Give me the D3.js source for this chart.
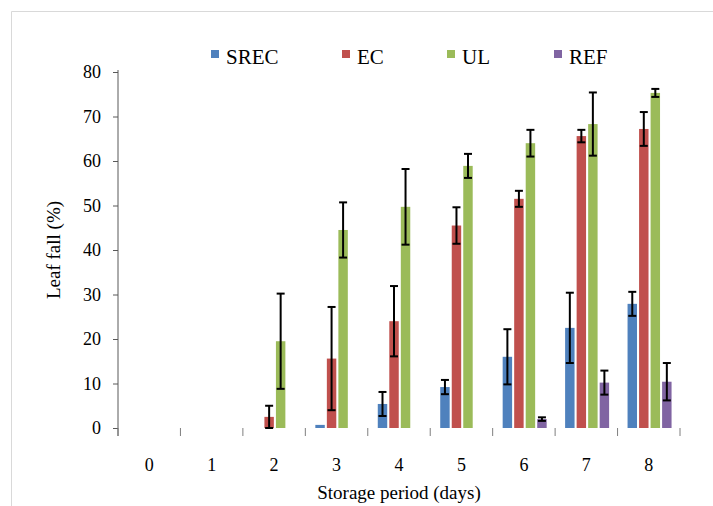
<!DOCTYPE html>
<html>
<head>
<meta charset="utf-8">
<script src="https://cdn.jsdelivr.net/npm/d3@7"></script>
<style>
  body { margin: 0; background: #fff; }
  svg { display: block; }
  svg text { font-family: "Liberation Serif", "Times New Roman", "DejaVu Serif", serif !important; }
</style>
</head>
<body>
<div id="chart"></div>
<script>
const days = ['0', '1', '2', '3', '4', '5', '6', '7', '8'];
const series = ['SREC', 'EC', 'UL', 'REF'];
const colors = ['#4F81BD', '#C0504D', '#9BBB59', '#8064A2'];
const yTicks = [0, 10, 20, 30, 40, 50, 60, 70, 80];

// mean leaf fall (%) per day
const srec = [0, 0, 0, 0.7, 5.4, 9.2, 16.0, 22.5, 27.9];
const ec   = [0, 0, 2.5, 15.6, 24.0, 45.5, 51.5, 65.6, 67.2];
const ul   = [0, 0, 19.5, 44.5, 49.7, 58.9, 64.0, 68.3, 75.3];
const ref  = [0, 0, 0, 0, 0, 0, 2.0, 10.2, 10.4];

// error half-widths (null = no bar drawn)
const srecErr = [null, null, null, null, 2.7, 1.6, 6.2, 7.9, 2.7];
const ecErr   = [null, null, 2.5, 11.6, 7.9, 4.1, 1.8, 1.4, 3.8];
const ulErr   = [null, null, 10.7, 6.2, 8.5, 2.7, 3.0, 7.1, 0.9];
const refErr  = [null, null, null, null, null, null, 0.4, 2.7, 4.2];

const values = [srec, ec, ul, ref];
const errors = [srecErr, ecErr, ulErr, refErr];

const width = 713, height = 506;
const mLeft = 118, mRight = 680, mTop = 72, mBottom = 428;
const serif = '"Liberation Serif", "Times New Roman", serif';

const svg = d3.select('#chart').append('svg')
  .attr('width', width)
  .attr('height', height)
  .attr('font-family', serif);

// outer frame (top and left edges visible)
svg.append('path')
  .attr('d', `M11.5,${height} V11.5 H${width}`)
  .attr('fill', 'none')
  .attr('stroke', '#d9d9d9')
  .attr('stroke-width', 1);

const x0 = d3.scaleBand().domain(days).range([mLeft, mRight]);
const x1 = d3.scaleBand().domain(series).range([10, 54]).paddingInner(0.18);
const y = d3.scaleLinear().domain([0, 80]).range([mBottom, mTop]);

// y axis
const yAxis = svg.append('g')
  .attr('transform', `translate(${mLeft},0)`)
  .call(d3.axisLeft(y).tickValues(yTicks).tickSize(5).tickPadding(12));
yAxis.attr('font-family', serif).attr('font-size', 18);
yAxis.select('.domain').attr('stroke', '#595959').attr('d', `M0,${mTop - 2}V${mBottom + 8}`);
yAxis.selectAll('.tick line').attr('stroke', '#595959');
yAxis.selectAll('text').attr('fill', '#000');

// x axis: ticks between categories, no line
const xTickPos = days.map(d => x0(d)).concat([mRight]);
svg.append('g').selectAll('line')
  .data(xTickPos)
  .join('line')
  .attr('x1', d => d).attr('x2', d => d)
  .attr('y1', mBottom).attr('y2', mBottom + 8)
  .attr('stroke', '#7f7f7f')
  .attr('stroke-width', 1);

svg.append('g').selectAll('text')
  .data(days)
  .join('text')
  .attr('x', d => x0(d) + x0.bandwidth() / 2)
  .attr('y', 471)
  .attr('text-anchor', 'middle')
  .attr('font-size', 18)
  .text(d => d);

// bars
const groups = svg.append('g').selectAll('g')
  .data(days)
  .join('g')
  .attr('transform', d => `translate(${x0(d)},0)`);

groups.selectAll('rect')
  .data((d, i) => series.map((s, k) => ({ s, k, v: values[k][i] })))
  .join('rect')
  .attr('x', d => x1(d.s))
  .attr('y', d => y(d.v))
  .attr('width', x1.bandwidth())
  .attr('height', d => y(0) - y(d.v))
  .attr('fill', d => colors[d.k]);

// error bars
const errData = (d, i) => series.map((s, k) => ({ s, v: values[k][i], e: errors[k][i] }))
  .filter(o => o.e !== null);

const eb = groups.selectAll('g.err')
  .data(errData)
  .join('g')
  .attr('class', 'err')
  .attr('stroke', '#000')
  .attr('stroke-width', 2);

eb.append('line')
  .attr('x1', d => x1(d.s) + x1.bandwidth() / 2)
  .attr('x2', d => x1(d.s) + x1.bandwidth() / 2)
  .attr('y1', d => y(d.v + d.e))
  .attr('y2', d => y(Math.max(0, d.v - d.e)));
eb.append('line')
  .attr('x1', d => x1(d.s) + x1.bandwidth() / 2 - 4)
  .attr('x2', d => x1(d.s) + x1.bandwidth() / 2 + 4)
  .attr('y1', d => y(d.v + d.e))
  .attr('y2', d => y(d.v + d.e));
eb.append('line')
  .attr('x1', d => x1(d.s) + x1.bandwidth() / 2 - 4)
  .attr('x2', d => x1(d.s) + x1.bandwidth() / 2 + 4)
  .attr('y1', d => y(Math.max(0, d.v - d.e)))
  .attr('y2', d => y(Math.max(0, d.v - d.e)));

// legend
const legendX = [211, 342, 447, 554];
const legend = svg.append('g').selectAll('g')
  .data(series)
  .join('g')
  .attr('transform', (d, i) => `translate(${legendX[i]},57)`);
legend.append('rect')
  .attr('x', 0).attr('y', -7)
  .attr('width', 8).attr('height', 8)
  .attr('fill', (d, i) => colors[i]);
legend.append('text')
  .attr('x', 15).attr('y', 0)
  .attr('dy', '0.35em')
  .attr('font-size', 21)
  .text(d => d);

// axis titles
svg.append('text')
  .attr('transform', `translate(53,${(mTop + mBottom) / 2}) rotate(-90)`)
  .attr('text-anchor', 'middle')
  .attr('dy', '0.35em')
  .attr('font-size', 19)
  .text('Leaf fall (%)');

svg.append('text')
  .attr('x', (mLeft + mRight) / 2)
  .attr('y', 499)
  .attr('text-anchor', 'middle')
  .attr('font-size', 19)
  .text('Storage period (days)');
</script>
</body>
</html>
